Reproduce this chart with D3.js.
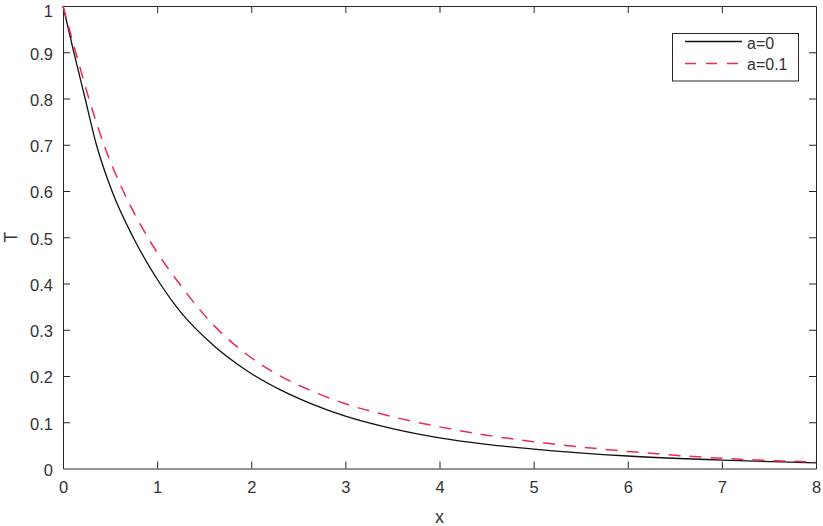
<!DOCTYPE html>
<html>
<head>
<meta charset="utf-8">
<script src="https://cdn.jsdelivr.net/npm/d3@7"></script>
<style>
  html, body { margin: 0; padding: 0; background: #fff; }
  svg { display: block; }
  text { font-family: "Liberation Sans", Arial, sans-serif; fill: #333; }
</style>
</head>
<body>
<svg id="chart" width="823" height="526"></svg>
<script>
// x positions and values
const blackX = [0, 0.115, 0.235, 0.355, 0.52, 0.745, 1.03, 1.25, 1.6, 1.95, 2.3, 2.66, 3.0, 3.5, 4.0, 4.5, 5.0, 6.0, 7.0, 8.0];
const blackT = [1.0, 0.9, 0.8, 0.7, 0.6, 0.5, 0.4, 0.338, 0.266, 0.212, 0.171, 0.138, 0.113, 0.086, 0.066, 0.052, 0.042, 0.027, 0.018, 0.012];
const redX = [0, 0.135, 0.275, 0.435, 0.64, 0.9, 1.235, 1.6, 1.95, 2.3, 2.66, 3.0, 3.5, 4.0, 4.5, 5.0, 6.0, 7.0, 8.0];
const redT = [1.0, 0.9, 0.8, 0.7, 0.6, 0.5, 0.4, 0.31, 0.247, 0.201, 0.166, 0.140, 0.112, 0.090, 0.072, 0.058, 0.037, 0.022, 0.014];
const xTicks = [0, 1, 2, 3, 4, 5, 6, 7, 8];
const yTicks = [0, 0.1, 0.2, 0.3, 0.4, 0.5, 0.6, 0.7, 0.8, 0.9, 1];
const seriesNames = ["a=0", "a=0.1"];

const svg = d3.select("#chart");
const L = 63, R = 816, T = 6, B = 468.5;
const x = d3.scaleLinear().domain([0, 8]).range([L, R]);
const y = d3.scaleLinear().domain([0, 1]).range([B, T]);

const axisColor = "#262626";
const tickLen = 7;
const fontFam = "Liberation Sans, Arial, sans-serif";

// axes (MATLAB style, ticks inward, mirrored)
const gx = svg.append("g").attr("transform", `translate(0,${B})`)
  .call(d3.axisBottom(x).tickValues(xTicks).tickSizeInner(-tickLen).tickSizeOuter(0).tickPadding(13).tickFormat(d3.format("d")));
const gxt = svg.append("g").attr("transform", `translate(0,${T})`)
  .call(d3.axisTop(x).tickValues(xTicks).tickSizeInner(-tickLen).tickSizeOuter(0).tickFormat(""));
const gy = svg.append("g").attr("transform", `translate(${L},0)`)
  .call(d3.axisLeft(y).tickValues(yTicks).tickSizeInner(-tickLen).tickSizeOuter(0).tickPadding(10).tickFormat(d => d === 0 || d === 1 ? d3.format("d")(d) : d3.format(".1f")(d)));
const gyr = svg.append("g").attr("transform", `translate(${R},0)`)
  .call(d3.axisRight(y).tickValues(yTicks).tickSizeInner(-tickLen).tickSizeOuter(0).tickFormat(""));

[gx, gxt, gy, gyr].forEach(g => {
  g.select(".domain").attr("stroke", axisColor).attr("stroke-width", 1);
  g.selectAll(".tick line").attr("stroke", axisColor).attr("stroke-width", 1);
  g.selectAll(".tick text").attr("font-size", 16.5).attr("fill", "#333")
    .attr("font-family", fontFam);
});
gy.selectAll(".tick text").attr("dy", "0.42em");
gy.selectAll(".tick text").filter(d => d === 1).attr("dy", "0.66em");
gx.selectAll(".tick line").filter(d => d === 0 || d === 8).remove();
gxt.selectAll(".tick line").filter(d => d === 0 || d === 8).remove();
gy.selectAll(".tick line").filter(d => d === 0 || d === 1).remove();
gyr.selectAll(".tick line").filter(d => d === 0 || d === 1).remove();

// axis labels
svg.append("text").attr("x", (L + R) / 2).attr("y", 523).attr("text-anchor", "middle")
  .attr("font-size", 18).text("x");
svg.append("text").attr("transform", `translate(17,${(T + B) / 2}) rotate(-90)`)
  .attr("text-anchor", "middle").attr("font-size", 18).text("T");

// lines
const line = d3.line().x(d => x(d[0])).y(d => y(d[1])).curve(d3.curveMonotoneX);
const blackData = blackX.map((v, i) => [v, blackT[i]]);
const redData = redX.map((v, i) => [v, redT[i]]);

svg.append("path").datum(blackData).attr("d", line)
  .attr("fill", "none").attr("stroke", "#111").attr("stroke-width", 1.3);
svg.append("path").datum(redData).attr("d", line)
  .attr("fill", "none").attr("stroke", "#ec2a50").attr("stroke-width", 1.5)
  .attr("stroke-dasharray", "12,9");

// legend
const lg = svg.append("g");
lg.append("rect").attr("x", 672.5).attr("y", 33.5).attr("width", 126).attr("height", 47.5)
  .attr("fill", "#fff").attr("stroke", axisColor).attr("stroke-width", 1);
const legendItems = [
  { name: seriesNames[0], color: "#111", dash: null, yy: 41.5, ty: 48.5 },
  { name: seriesNames[1], color: "#ec2a50", dash: "11,10", yy: 63.5, ty: 70 }
];
legendItems.forEach(it => {
  lg.append("line").attr("x1", 685).attr("x2", 742).attr("y1", it.yy).attr("y2", it.yy)
    .attr("stroke", it.color).attr("stroke-width", 1.3)
    .attr("stroke-dasharray", it.dash);
  lg.append("text").attr("x", 747).attr("y", it.ty).attr("font-size", 16).text(it.name);
});
</script>
</body>
</html>
